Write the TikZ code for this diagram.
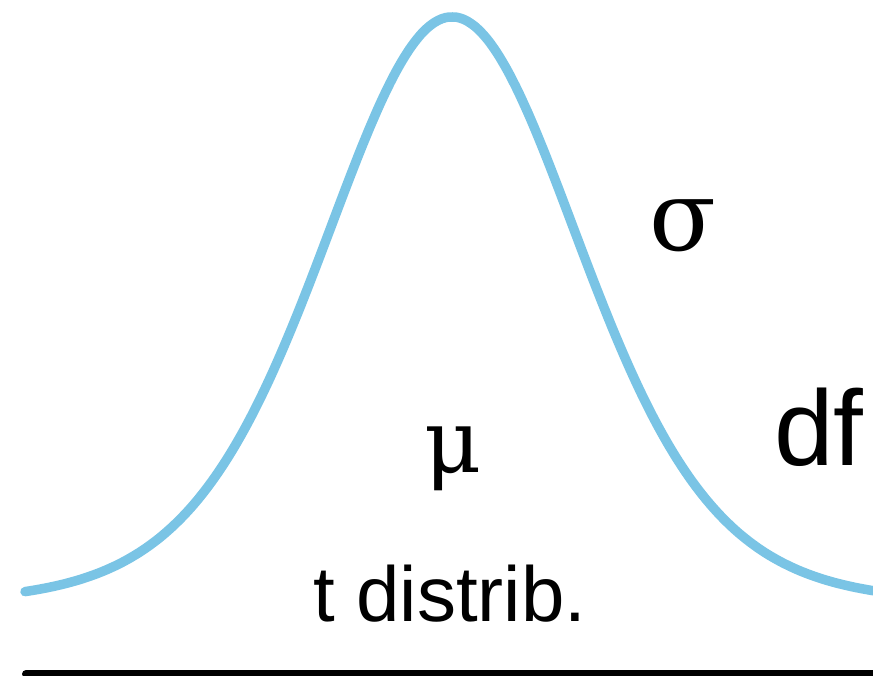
\documentclass[tikz,border=0pt]{standalone}
\usepackage{fontspec}
\setmainfont{Liberation Serif}
\newfontfamily\arialf{Liberation Sans}
\newfontfamily\dvserif{DejaVu Serif}
\definecolor{curveblue}{RGB}{122,196,229}
\begin{document}
\begin{tikzpicture}[x=1pt,y=-1pt,
  curve/.style={draw=curveblue,line width=9.5pt,line cap=round,line join=round},
  axisline/.style={draw=black,line width=8pt,line cap=round},
  sigmastyle/.style={inner sep=0pt,font=\dvserif\fontsize{98}{98}\selectfont},
  mustyle/.style={inner sep=0pt,font=\dvserif\fontsize{88}{88}\selectfont},
  biglabel/.style={inner sep=0pt,font=\arialf\fontsize{107}{107}\selectfont},
  midlabel/.style={inner sep=0pt,font=\arialf\fontsize{78}{78}\selectfont}]
\useasboundingbox (0,0) rectangle (873,676);
\clip (0,0) rectangle (873,676);
\draw[curve] plot[domain=-427:432,samples=240,smooth]
  ({\x+452}, {603-586*exp(-5.5*ln(1+((\x/132)^2)/10))});
\coordinate (L) at (26,674);
\coordinate (R) at (885,674);
\draw[axisline] (L) -- (R);
\node[sigmastyle, anchor=base west] (sigma) at (649,251) {σ};
\node[mustyle, anchor=base west] (mu) at (424,472) {μ};
\node[biglabel, anchor=base west] (df) at (774,465) {df};
\node[midlabel, anchor=base west] (tdist) at (313,621) {t distrib.};
\end{tikzpicture}
\end{document}
